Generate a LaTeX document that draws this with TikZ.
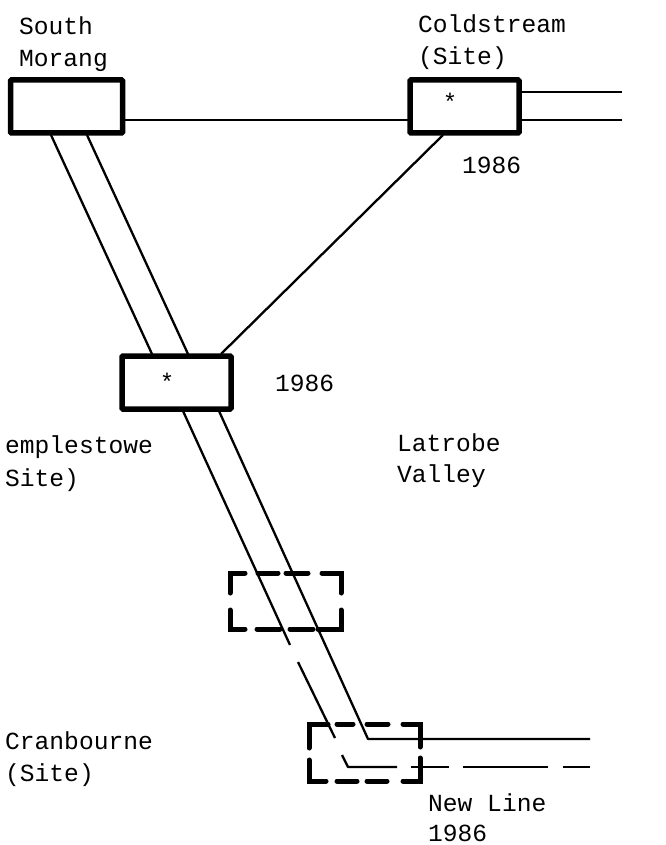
\documentclass[tikz,border=0pt]{standalone}
\usepackage{fontspec}
\setmainfont{Liberation Mono}
\begin{document}
\begin{tikzpicture}[x=1pt,y=-1pt,
  lbl/.style={anchor=base west,inner sep=0pt,font=\fontsize{24.6}{28}\selectfont},
  starlbl/.style={anchor=center,inner sep=0pt,font=\fontsize{24}{28}\selectfont},
  sub/.style={draw=black,line width=5.5pt,rounded corners=1pt,minimum width=109pt,minimum height=53pt,inner sep=0pt,outer sep=0pt},
  wire/.style={line width=2.3pt,line join=round},
  dashpiece/.style={line width=5pt,line cap=round,line join=miter}]
\useasboundingbox (0,0) rectangle (665,845);
\fill[white] (0,0) rectangle (665,845);
% substations
\node[sub,minimum width=112pt] (sm) at (66.5,106.5) {};
\node[sub] (cs) at (464.5,106.5) {};
\node[sub] (tp) at (176.5,382.5) {};
\coordinate (e1) at (622,92);
\coordinate (e2) at (622,120);
\coordinate (smA) at (51,135);
\coordinate (smB) at (87,135);
\coordinate (tpA) at (152,354);
\coordinate (tpB) at (188,354);
\coordinate (tpC) at (183,411);
\coordinate (tpD) at (219,411);
\coordinate (csS) at (443,135);
\coordinate (tpT) at (221,354);
\coordinate (bendU) at (368,739);
\coordinate (endU) at (590,739);
\coordinate (g1) at (290,645);
\coordinate (g2) at (298,662);
\coordinate (g3) at (335,738);
\coordinate (g4) at (342,755);
\coordinate (bendL) at (348,767);
\coordinate (l1) at (397,767);
\coordinate (l2) at (411,767);
\coordinate (l3) at (449,767);
\coordinate (l4) at (463,767);
\coordinate (l5) at (548,767);
\coordinate (l6) at (563,767);
\coordinate (l7) at (590,767);
\coordinate (smE) at (sm.east |- 0,120);
\coordinate (csW) at (cs.west |- 0,120);
\coordinate (csE1) at (cs.east |- 0,92);
\coordinate (csE2) at (cs.east |- 0,120);
% connectors
\draw[wire] (smE) -- (csW);
\draw[wire] (csE1) -- (e1);
\draw[wire] (csE2) -- (e2);
\draw[wire] (smA) -- (tpA);
\draw[wire] (smB) -- (tpB);
\draw[wire] (csS) -- (tpT);
\draw[wire] (tpC) -- (g1);
\draw[wire] (g2) -- (g3);
\draw[wire] (tpD) -- (bendU) -- (endU);
\draw[wire] (g4) -- (bendL) -- (l1);
\draw[wire] (l2) -- (l3);
\draw[wire] (l4) -- (l5);
\draw[wire] (l6) -- (l7);
% dashed box upper
\draw[dashpiece] (230,593) -- (230,573) -- (245,573);
\draw[dashpiece] (258,573) -- (278,573);
\draw[dashpiece] (286,573) -- (308,573);
\draw[dashpiece] (322,573) -- (341,573) -- (341,593);
\draw[dashpiece] (230,610) -- (230,629) -- (245,629);
\draw[dashpiece] (257,629) -- (280,629);
\draw[dashpiece] (290,629) -- (313,629);
\draw[dashpiece] (318,629) -- (341,629) -- (341,610);
% dashed box lower
\draw[dashpiece] (309,748) -- (309,724) -- (328,724);
\draw[dashpiece] (337,724) -- (353,724);
\draw[dashpiece] (367,724) -- (388,724);
\draw[dashpiece] (403,724) -- (420,724) -- (420,747);
\draw[dashpiece] (309,760) -- (309,781) -- (326,781);
\draw[dashpiece] (337,781) -- (357,781);
\draw[dashpiece] (367,781) -- (387,781);
\draw[dashpiece] (403,781) -- (420,781) -- (420,758);
% labels
\node[lbl] (t1) at (19,35) {South};
\node[lbl] (t2) at (19,67) {Morang};
\node[lbl] (t3) at (418,33) {Coldstream};
\node[lbl] (t4) at (418,65) {(Site)};
\node[lbl] (t5) at (462,174) {1986};
\node[starlbl] (s1) at (450,102) {*};
\node[starlbl] (s2) at (167,382) {*};
\node[lbl] (t6) at (275,391) {1986};
\node[lbl] (t7) at (5,453) {emplestowe};
\node[lbl] (t8) at (5,486) {Site)};
\node[lbl] (t9) at (397,451) {Latrobe};
\node[lbl] (t10) at (397,482) {Valley};
\node[lbl] (t11) at (5,749) {Cranbourne};
\node[lbl] (t12) at (5,781) {(Site)};
\node[lbl] (t13) at (428,811) {New Line};
\node[lbl] (t14) at (428,841) {1986};
\end{tikzpicture}
\end{document}
